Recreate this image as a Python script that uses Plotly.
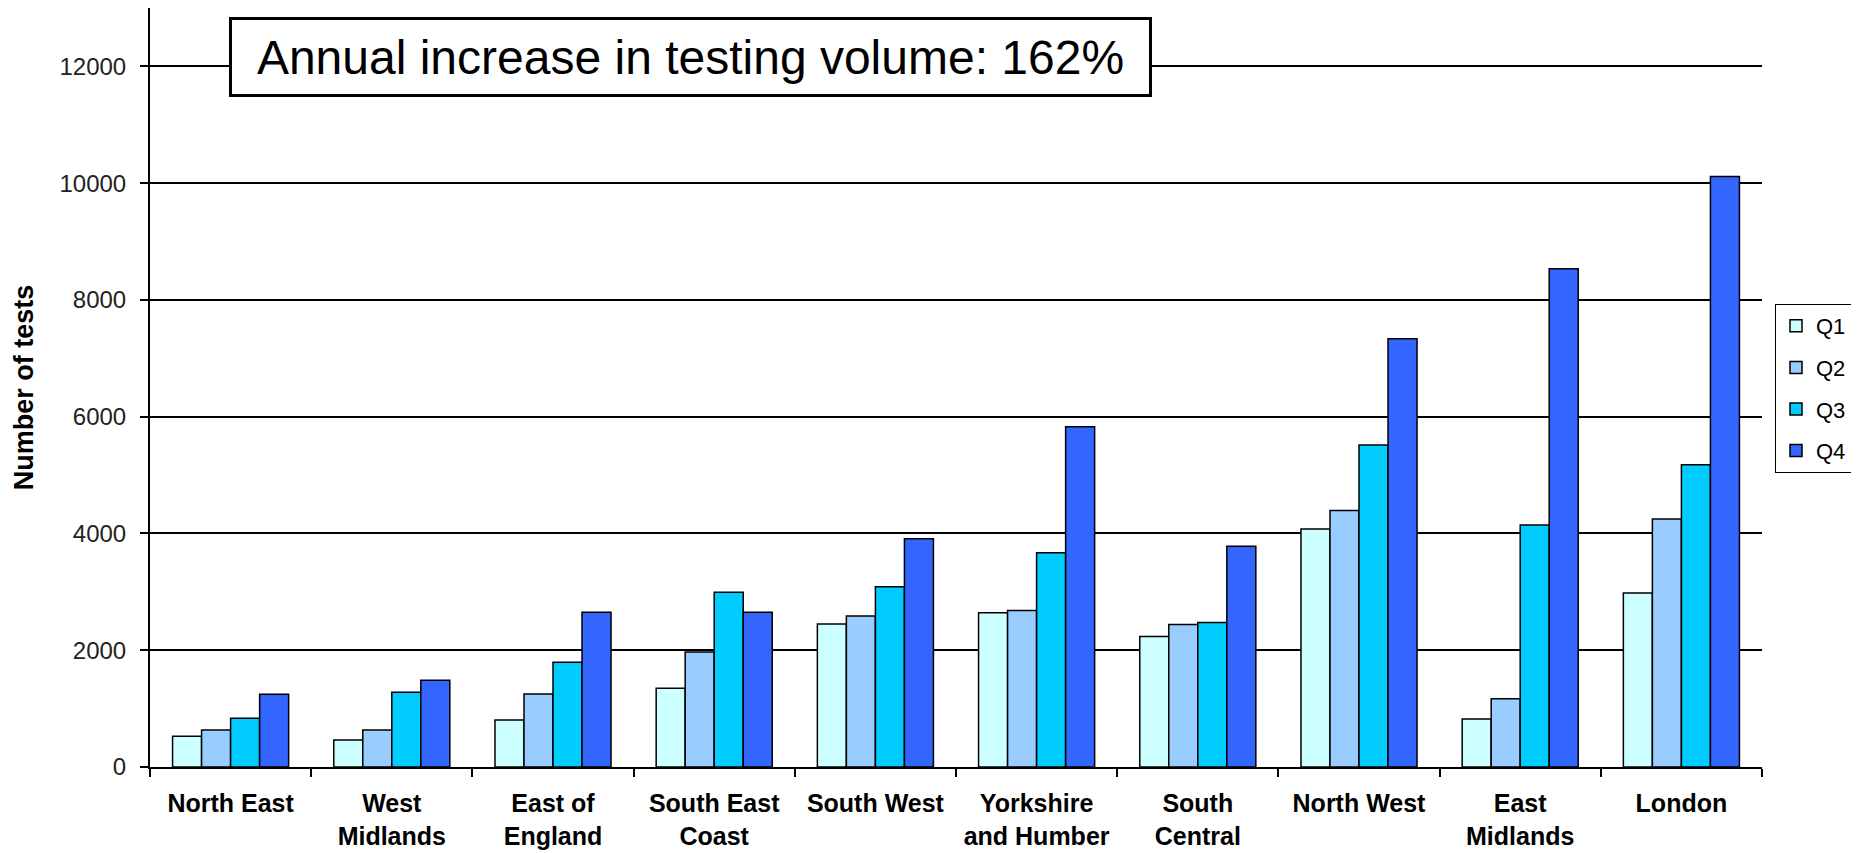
import plotly.graph_objects as go

regions = ["North East", "West<br>Midlands", "East of<br>England", "South East<br>Coast",
           "South West", "Yorkshire<br>and Humber", "South<br>Central", "North West",
           "East<br>Midlands", "London"]
q1 = [526, 462, 805, 1348, 2449, 2642, 2235, 4078, 822, 2980]
q2 = [634, 634, 1250, 1970, 2586, 2680, 2442, 4393, 1167, 4247]
q3 = [834, 1279, 1793, 2992, 3087, 3671, 2473, 5514, 4147, 5176]
q4 = [1245, 1485, 2650, 2650, 3909, 5829, 3779, 7334, 8532, 10115]
series_names = ["Q1", "Q2", "Q3", "Q4"]
series_colors = ["#CCFFFF", "#99CCFF", "#00CCFF", "#3366FF"]
y_ticks = [0, 2000, 4000, 6000, 8000, 10000, 12000]
headline = "Annual increase in testing volume: 162%"

W, H = 1851, 845  # page body adds an 8px margin

fig = go.Figure()
for name, vals, col in zip(series_names, [q1, q2, q3, q4], series_colors):
    fig.add_trace(go.Bar(
        x=regions, y=vals, name=name, legendgroup=name,
        marker=dict(color=col, line=dict(color="black", width=1.5)),
    ))

fig.update_layout(
    width=W, height=H,
    margin=dict(l=142, r=97, t=0, b=86, autoexpand=False),
    paper_bgcolor="white", plot_bgcolor="white",
    barmode="group", bargap=0.28, bargroupgap=0,
    font=dict(family="Liberation Sans, Arial, sans-serif", color="black"),
    legend=dict(
        xref="container", yref="container",
        x=1767 / W, y=1 - 296 / H, xanchor="left", yanchor="top",
        bordercolor="black", borderwidth=1, bgcolor="white",
        font=dict(size=22, family="Liberation Sans, Arial, sans-serif"),
        tracegroupgap=10,
    ),
    showlegend=True,
)

fig.update_yaxes(
    range=[0, 13000], tickvals=y_ticks, tickformat="d",
    showgrid=True, gridcolor="black", gridwidth=1.5,
    showline=True, linecolor="black", linewidth=2,
    ticks="outside", ticklen=8, tickwidth=1.5, tickcolor="black",
    tickfont=dict(size=24, color="#222222"),
    ticklabelstandoff=9,
    zeroline=False,
    title=dict(text="<b>Number of tests</b>", standoff=18,
               font=dict(size=27, family="Liberation Sans Narrow, Arial Narrow, Liberation Sans, sans-serif")),
)
fig.update_xaxes(
    showline=True, linecolor="black", linewidth=2,
    ticks="outside", ticklen=8, tickwidth=1.5, tickcolor="black",
    tickson="boundaries",
    tickfont=dict(size=25, family="Liberation Sans, Arial, sans-serif"),
    ticklabelstandoff=13,
    tickprefix="<b>", ticksuffix="</b>",
)

fig.add_annotation(
    text=headline, xref="paper", yref="paper",
    x=(690 - 150) / 1612, y=(767 - 57) / 759,
    xanchor="center", yanchor="middle",
    showarrow=False, align="center",
    width=917, height=74, borderpad=0,
    bordercolor="black", borderwidth=3, bgcolor="white",
    font=dict(size=48, color="black", family="Liberation Sans, Arial, sans-serif"),
)

fig.write_html("out.html")
